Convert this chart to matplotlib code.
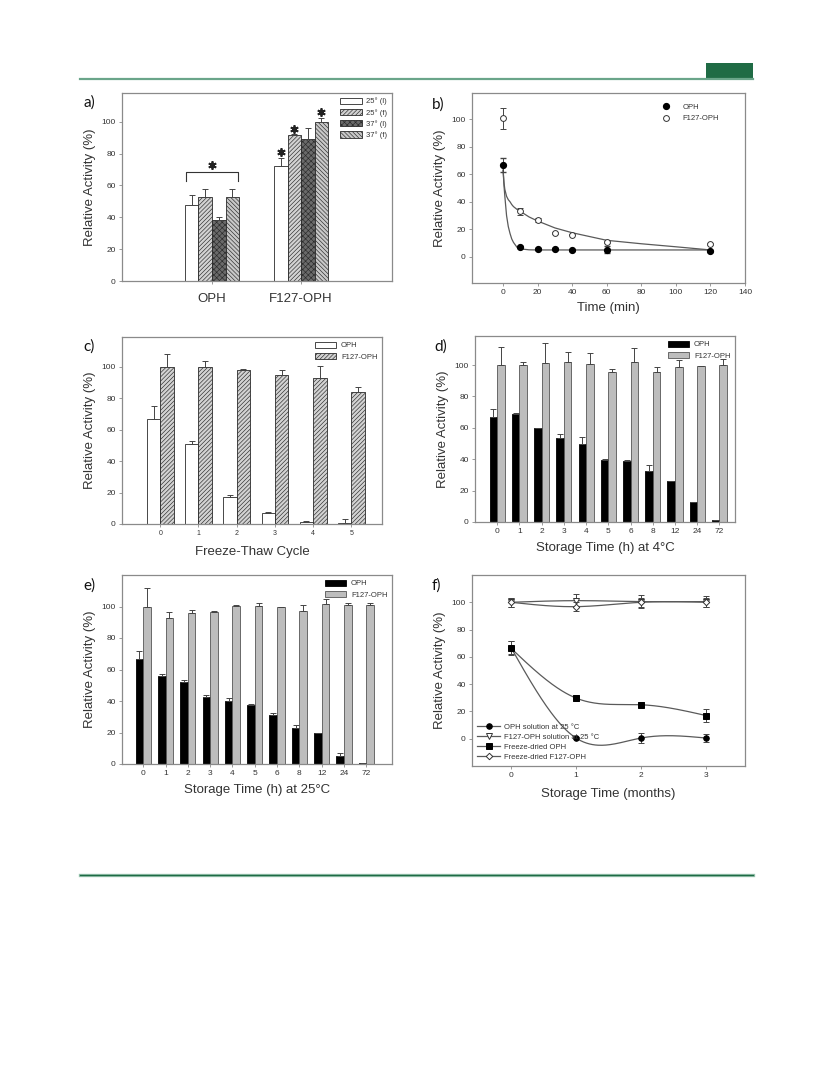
import numpy as np
import matplotlib
matplotlib.use("Agg")
import matplotlib.pyplot as plt
from matplotlib.patches import Patch, Rectangle
from matplotlib.lines import Line2D

plt.rcParams['font.family'] = ['Liberation Sans', 'DejaVu Sans']
plt.rcParams['hatch.linewidth'] = 0.45

W, H = 833, 1091

# ---- a) temperature / form ----
a_groups = ['OPH', 'F127-OPH']
a_series = ['25° (l)', '25° (f)', '37° (l)', '37° (f)']
a_vals = [[47.8, 53.0, 38.3, 53.0],
          [72.4, 91.4, 89.3, 100.0]]
a_errs = [[5.9, 4.7, 2.1, 4.7],
          [4.6, 0.6, 6.9, 2.0]]

# ---- b) time course ----
b_time = [0, 10, 20, 30, 40, 60, 120]
b_oph = [66.7, 7.0, 5.8, 6.0, 4.8, 5.3, 4.3]
b_oph_err = [5.0, 0.6, 0.5, 0.5, 0.4, 2.5, 0.5]
b_f127 = [100.5, 33.0, 27.0, 17.3, 16.1, 10.8, 9.4]
b_f127_err = [7.5, 2.5, 1.5, 0.6, 0.6, 0.6, 0.6]
# fitted curves
b_fit_t = [0, 0.5, 1, 2, 3, 4, 5, 6, 8, 10, 15, 20, 30, 40, 60, 80, 100, 120]
b_fit_oph = [63, 52, 44, 30, 22, 17, 13, 10.5, 7, 5.8, 5.1, 5, 5, 5, 5, 5, 5, 5]
b_fit_f127 = [63, 54, 49, 44, 41.5, 40, 38, 36.5, 34.5, 33, 29, 26, 21, 17.5, 12, 9.5, 7.3, 5]

# ---- c) freeze-thaw ----
c_cycles = ['0', '1', '2', '3', '4', '5']
c_oph = [66.8, 50.9, 17.4, 7.2, 1.5, 0.9]
c_oph_err = [8.5, 1.7, 1.1, 0.7, 0.3, 2.5]
c_f127 = [100.0, 99.8, 97.7, 95.1, 92.9, 84.0]
c_f127_err = [7.9, 3.8, 1.2, 2.6, 7.9, 3.0]

# ---- d) storage at 4 C ----
st_labels = ['0', '1', '2', '3', '4', '5', '6', '8', '12', '24', '72']
d_oph = [66.6, 69.0, 59.6, 53.2, 50.0, 39.4, 38.7, 32.6, 26.2, 12.8, 1.0]
d_oph_err = [5.4, 0.5, 0.5, 2.8, 4.3, 0.6, 0.5, 4.0, 0.2, 0.2, 0.2]
d_f127 = [100.0, 100.0, 101.0, 101.7, 100.6, 95.3, 101.7, 95.3, 99.0, 99.4, 100.0]
d_f127_err = [11.7, 1.7, 13.0, 6.3, 6.8, 1.9, 9.3, 3.7, 4.0, 0.2, 3.8]

# ---- e) storage at 25 C ----
e_oph = [66.8, 55.7, 51.9, 42.5, 40.2, 37.7, 30.9, 22.8, 19.6, 5.3, 0.4]
e_oph_err = [5.2, 1.7, 1.7, 1.5, 1.7, 0.3, 1.4, 2.1, 0.3, 1.5, 0.2]
e_f127 = [100.0, 92.6, 95.7, 96.2, 100.4, 100.4, 99.4, 97.2, 101.3, 101.0, 101.0]
e_f127_err = [11.5, 3.6, 2.0, 1.0, 0.3, 1.7, 0.6, 3.8, 3.4, 1.1, 1.1]

# ---- f) long term storage ----
f_months = [0, 1, 2, 3]
f_oph_sol = [66.8, 0.5, 0.5, 0.5]
f_oph_sol_err = [4.9, 1.0, 4.0, 3.0]
f_f127_sol = [100.0, 101.2, 100.5, 100.5]
f_f127_sol_err = [3.5, 5.0, 5.0, 4.0]
f_fd_oph = [66.3, 29.8, 24.9, 17.0]
f_fd_oph_err = [5.0, 2.0, 2.0, 4.5]
f_fd_f127 = [100.0, 96.8, 100.0, 100.0]
f_fd_f127_err = [3.5, 3.5, 3.5, 3.5]
f_names = ['OPH solution at 25 °C', 'F127-OPH solution at 25 °C',
           'Freeze-dried OPH', 'Freeze-dried F127-OPH']

SPINE = '#8a8a8a'
TXT = '#333333'
LINE = '#5a5a5a'


def px_rect(l, r, t, b):
    return [l / W, 1 - b / H, (r - l) / W, (b - t) / H]


def style_axes(ax, tick_size=6):
    for s in ax.spines.values():
        s.set_color(SPINE)
        s.set_linewidth(0.9)
    ax.tick_params(direction='out', length=2.5, width=0.6, color=SPINE,
                   labelsize=tick_size, labelcolor=TXT, pad=2)
    ax.set_ylabel('Relative Activity (%)', fontsize=9.5, color=TXT, labelpad=4)


def natural_spline(x, y, n=200):
    x = np.asarray(x, float)
    y = np.asarray(y, float)
    k = len(x)
    h = np.diff(x)
    A = np.zeros((k, k))
    rhs = np.zeros(k)
    A[0, 0] = A[-1, -1] = 1
    for i in range(1, k - 1):
        A[i, i - 1] = h[i - 1]
        A[i, i] = 2 * (h[i - 1] + h[i])
        A[i, i + 1] = h[i]
        rhs[i] = 6 * ((y[i + 1] - y[i]) / h[i] - (y[i] - y[i - 1]) / h[i - 1])
    M = np.linalg.solve(A, rhs)
    xs = np.linspace(x[0], x[-1], n)
    idx = np.clip(np.searchsorted(x, xs) - 1, 0, k - 2)
    x0, x1 = x[idx], x[idx + 1]
    hh = x1 - x0
    ys = (M[idx] * (x1 - xs) ** 3 / (6 * hh) + M[idx + 1] * (xs - x0) ** 3 / (6 * hh)
          + (y[idx] - M[idx] * hh ** 2 / 6) * (x1 - xs) / hh
          + (y[idx + 1] - M[idx + 1] * hh ** 2 / 6) * (xs - x0) / hh)
    return xs, ys


def up_err(ax, x, y, e):
    ax.errorbar(x, y, yerr=[np.zeros(len(e)), e], fmt='none', ecolor='#444444',
                elinewidth=0.7, capsize=2.2, capthick=0.7)


def bar_legend(ax, handles, labels):
    ax.legend(handles, labels, loc='upper right', frameon=False, fontsize=5.5,
              handlelength=2.8, handleheight=0.9, labelspacing=0.45,
              borderaxespad=0.2, handletextpad=0.6, labelcolor=TXT)


fig = plt.figure(figsize=(W / 100, H / 100), dpi=100)

# header / footer rules
fig.add_artist(Line2D([80 / W, 753 / W], [1 - 78.5 / H] * 2, color='#6aa58a', lw=1.6))
fig.add_artist(Rectangle((706 / W, 1 - 78 / H), 47 / W, 15 / H, color='#1f6b45', lw=0))
fig.add_artist(Line2D([80 / W, 753 / W], [1 - 875 / H] * 2, color='#9cc7b2', lw=2.4))
fig.add_artist(Line2D([80 / W, 753 / W], [1 - 875 / H] * 2, color='#1f6b45', lw=1.0))

# ---------- a ----------
ax = fig.add_axes(px_rect(122, 392, 93, 281))
style_axes(ax)
w = 0.152
a_styles = [dict(facecolor='white', hatch=None),
            dict(facecolor='#d2d2d2', hatch='////////'),
            dict(facecolor='#6a6a6a', hatch='xxxxxx'),
            dict(facecolor='#c8c8c8', hatch='\\\\\\\\\\\\\\\\')]
gx = np.arange(len(a_groups))
handles = []
for j, name in enumerate(a_series):
    xs = gx + (j - 1.5) * w
    vals = [a_vals[g][j] for g in range(len(a_groups))]
    errs = [a_errs[g][j] for g in range(len(a_groups))]
    ax.bar(xs, vals, width=w, edgecolor='#2a2a2a', linewidth=0.6, **a_styles[j])
    up_err(ax, xs, vals, errs)
    handles.append(Patch(edgecolor='#2a2a2a', linewidth=0.6, **a_styles[j]))
bar_legend(ax, handles, a_series)
ax.set_xlim(-1.01, 2.02)
ax.set_ylim(0, 118)
ax.set_yticks(range(0, 101, 20))
ax.set_xticks(gx)
ax.set_xticklabels(a_groups, fontsize=9.5, color=TXT)
ax.tick_params(axis='x', pad=6)
# significance marks
ax.plot([-0.29, -0.29, 0.29, 0.29], [62.5, 68.7, 68.7, 62.5], color='#333333', lw=0.8)
star = dict(marker=(6, 2, 0), color='#222222', markersize=6, mew=1.3, ls='none')
ax.plot([0], [73], **star)
ax.plot([1 - 1.5 * w, 1 - 0.5 * w, 1 + 1.5 * w], [81, 95.5, 105.8], **star)

# ---------- b ----------
ax = fig.add_axes(px_rect(472, 745, 93, 283))
style_axes(ax)
ax.plot(b_fit_t, b_fit_oph, color=LINE, lw=0.9)
ax.plot(b_fit_t, b_fit_f127, color=LINE, lw=0.9)
ax.errorbar(b_time, b_f127, yerr=b_f127_err, fmt='o', ms=4.2, mfc='white', mec='#333333',
            mew=0.7, ecolor='#444444', elinewidth=0.7, capsize=2.2, label='F127-OPH')
ax.errorbar(b_time, b_oph, yerr=b_oph_err, fmt='o', ms=4.2, mfc='black', mec='black',
            ecolor='#444444', elinewidth=0.7, capsize=2.2, label='OPH')
hb = [Line2D([], [], marker='o', ls='none', ms=4.2, mfc='black', mec='black'),
      Line2D([], [], marker='o', ls='none', ms=4.2, mfc='white', mec='#333333', mew=0.7)]
ax.legend(hb, ['OPH', 'F127-OPH'], loc='upper right', bbox_to_anchor=(0.93, 0.98),
          frameon=False, fontsize=5.5, handletextpad=1.2, labelspacing=0.5, labelcolor=TXT)
ax.set_xlim(-18, 140)
ax.set_ylim(-19, 119)
ax.set_xticks(range(0, 141, 20))
ax.set_yticks(range(0, 101, 20))
ax.set_xlabel('Time (min)', fontsize=9.5, color=TXT, labelpad=4)

# ---------- c ----------
ax = fig.add_axes(px_rect(122, 382, 337, 524))
style_axes(ax)
w = 0.35
cx = np.arange(len(c_cycles))
s_open = dict(facecolor='white', edgecolor='#2a2a2a', linewidth=0.6)
s_hatch = dict(facecolor='#d2d2d2', edgecolor='#2a2a2a', linewidth=0.6, hatch='////////')
ax.bar(cx - w / 2, c_oph, width=w, **s_open)
ax.bar(cx + w / 2, c_f127, width=w, **s_hatch)
up_err(ax, cx - w / 2, c_oph, c_oph_err)
up_err(ax, cx + w / 2, c_f127, c_f127_err)
bar_legend(ax, [Patch(**s_open), Patch(**s_hatch)], ['OPH', 'F127-OPH'])
ax.set_xlim(-1.0, 5.8)
ax.set_ylim(0, 119)
ax.set_yticks(range(0, 101, 20))
ax.set_xticks(cx)
ax.set_xticklabels(c_cycles, fontsize=5)
ax.set_xlabel('Freeze-Thaw Cycle', fontsize=9.5, color=TXT, labelpad=6)

# ---------- d / e ----------
s_black = dict(facecolor='black', edgecolor='black', linewidth=0.6)
s_grey = dict(facecolor='#bdbdbd', edgecolor='#555555', linewidth=0.6)


def storage_panel(rect, oph, oph_err, f127, f127_err, xlim, ylim, xlabel):
    ax = fig.add_axes(rect)
    style_axes(ax)
    w = 0.34
    sx = np.arange(len(st_labels))
    ax.bar(sx - w / 2, oph, width=w, **s_black)
    ax.bar(sx + w / 2, f127, width=w, **s_grey)
    up_err(ax, sx - w / 2, oph, oph_err)
    up_err(ax, sx + w / 2, f127, f127_err)
    bar_legend(ax, [Patch(**s_black), Patch(**s_grey)], ['OPH', 'F127-OPH'])
    ax.set_xlim(*xlim)
    ax.set_ylim(*ylim)
    ax.set_yticks(range(0, 101, 20))
    ax.set_xticks(sx)
    ax.set_xticklabels(st_labels, fontsize=6)
    ax.set_xlabel(xlabel, fontsize=9.5, color=TXT, labelpad=5)
    return ax


storage_panel(px_rect(475, 735, 336, 522), d_oph, d_oph_err, d_f127, d_f127_err,
              (-1.0, 10.7), (0, 118.5), 'Storage Time (h) at 4°C')
storage_panel(px_rect(122, 392, 575, 764), e_oph, e_oph_err, e_f127, e_f127_err,
              (-0.95, 11.15), (0, 120), 'Storage Time (h) at 25°C')

# ---------- f ----------
ax = fig.add_axes(px_rect(472, 745, 575, 766))
style_axes(ax)
f_series = [(f_oph_sol, f_oph_sol_err, dict(marker='o', mfc='black', mec='black')),
            (f_f127_sol, f_f127_sol_err, dict(marker='v', mfc='white', mec='#333333')),
            (f_fd_oph, f_fd_oph_err, dict(marker='s', mfc='black', mec='black')),
            (f_fd_f127, f_fd_f127_err, dict(marker='D', mfc='white', mec='#333333'))]
hf = []
for vals, errs, mk in f_series:
    xs, ys = natural_spline(f_months, vals)
    ax.plot(xs, ys, color=LINE, lw=0.9)
    ax.errorbar(f_months, vals, yerr=errs, fmt='none', ecolor='#444444',
                elinewidth=0.7, capsize=2.5, capthick=0.7)
    ms = 3.3 if mk['marker'] == 'D' else 4.0
    ax.plot(f_months, vals, ls='none', ms=ms, mew=0.7, **mk)
    hf.append(Line2D([], [], color=LINE, lw=0.9, ms=ms, mew=0.7, **mk))
ax.legend(hf, f_names, loc='lower left', frameon=False, fontsize=5.5,
          handlelength=3.0, labelspacing=0.35, borderaxespad=0.3,
          handletextpad=0.5, labelcolor=TXT)
ax.set_xlim(-0.6, 3.6)
ax.set_ylim(-20, 120)
ax.set_xticks(f_months)
ax.set_yticks(range(0, 101, 20))
ax.set_xlabel('Storage Time (months)', fontsize=9.5, color=TXT, labelpad=6)

# panel letters
for lab, (px, py) in zip('abcdef', [(83, 103), (432, 105), (83, 347),
                                    (434, 347), (83, 586), (432, 586)]):
    fig.text(px / W, 1 - py / H, lab + ')', fontsize=11, family=['Lato', 'DejaVu Sans'],
             va='center', ha='left', color='#111111')

fig.savefig('out.png', dpi=100)
